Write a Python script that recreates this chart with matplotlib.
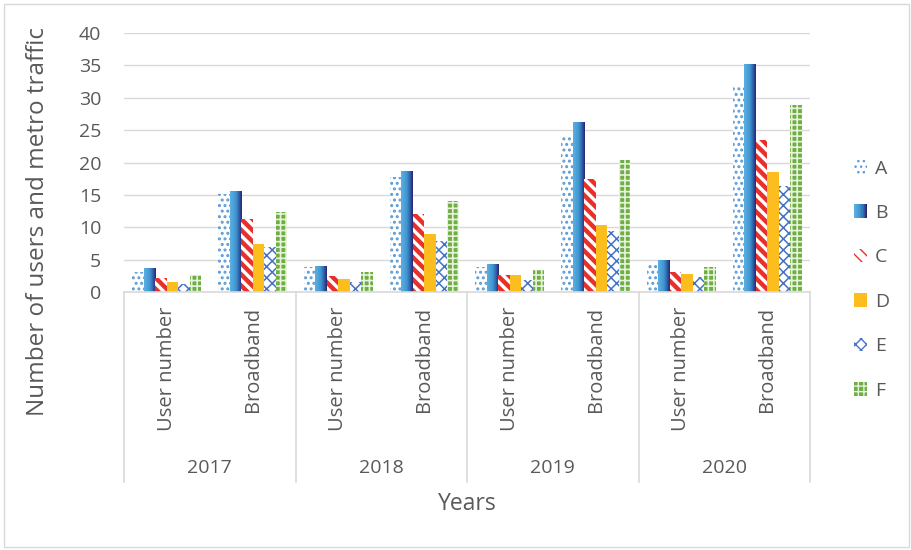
import numpy as np
import matplotlib
matplotlib.use("Agg")
import matplotlib.pyplot as plt
from matplotlib.patches import Rectangle, Patch
from matplotlib.colors import LinearSegmentedColormap
from matplotlib.legend_handler import HandlerBase
import matplotlib.transforms as mtransforms

plt.rcParams['font.family'] = ['Open Sans', 'DejaVu Sans']

years = ['2017', '2018', '2019', '2020']
subcats = ['User number', 'Broadband']
series_names = ['A', 'B', 'C', 'D', 'E', 'F']
A = [3.1, 15.2, 3.9, 17.8, 3.8, 24.2, 4.4, 31.7]
B = [3.6, 15.5, 4.0, 18.6, 4.3, 26.2, 4.8, 35.2]
C = [2.1, 11.3, 2.4, 12.0, 2.6, 17.4, 3.1, 23.5]
D = [1.6, 7.4, 2.0, 8.9, 2.6, 10.3, 2.8, 18.6]
E = [1.2, 7.0, 1.6, 7.8, 1.9, 9.4, 2.3, 16.3]
F = [2.6, 12.4, 3.1, 14.1, 3.4, 20.4, 3.8, 28.9]
yticks = [0, 5, 10, 15, 20, 25, 30, 35, 40]

TXT = '#595959'
GRID = '#D9D9D9'
FS = 14
blue_grad = LinearSegmentedColormap.from_list(
    'bgrad', [(0.0, '#5DB0E2'), (0.5, '#3F95CF'), (0.75, '#2F63AA'), (1.0, '#2B2270')])

fig = plt.figure(figsize=(9.11, 5.5), dpi=100)
ax = fig.add_axes([124 / 911, 1 - 292 / 550, 686 / 911, 259 / 550])

# chart border
fig.patches.append(Rectangle((4 / 911, 3 / 550), 905 / 911, 543 / 550, transform=fig.transFigure,
                             fill=False, edgecolor=GRID, lw=1))

n_cat = len(A)
x = np.arange(n_cat)
bw = 0.134
offs = (np.arange(6) - 2.5) * bw

styles = {
    'A': dict(facecolor='white', edgecolor='#5B9BD5', hatch='...', hlw=1.4),
    'C': dict(facecolor='white', edgecolor='#E8302A', hatch='\\\\\\', hlw=3.2),
    'D': dict(facecolor='#FBBE1E', edgecolor='#FBBE1E', hatch=None, hlw=1.0),
    'E': dict(facecolor='white', edgecolor='#4472C4', hatch='xxx', hlw=1.1),
    'F': dict(facecolor='#6FAE43', edgecolor='#E6F2DC', hatch='+++', hlw=1.2),
}

data = dict(zip(series_names, [A, B, C, D, E, F]))
for k, name in enumerate(series_names):
    vals = data[name]
    if name == 'B':
        for xi, v in zip(x, vals):
            x0 = xi + offs[k] - bw / 2
            ax.imshow(np.linspace(0, 1, 64).reshape(1, -1), cmap=blue_grad, aspect='auto',
                      extent=[x0, x0 + bw, 0, v], zorder=2, interpolation='bilinear')
        continue
    st = styles[name]
    with plt.rc_context({'hatch.linewidth': st['hlw']}):
        ax.bar(x + offs[k], vals, width=bw, facecolor=st['facecolor'], edgecolor=st['edgecolor'],
               hatch=st['hatch'], linewidth=0, zorder=2)

ax.set_xlim(-0.5, n_cat - 0.5)
ax.set_ylim(0, 40)
ax.set_yticks(yticks)
ax.yaxis.grid(True, color=GRID, lw=1)
ax.set_axisbelow(True)
for s in ['top', 'right', 'left']:
    ax.spines[s].set_visible(False)
ax.spines['bottom'].set_color(GRID)
ax.spines['bottom'].set_linewidth(1.2)
ax.tick_params(axis='y', length=0, pad=16.5, labelsize=FS, labelcolor=TXT)
ax.tick_params(axis='x', length=0)

ax.set_xticks(x)
ax.set_xticklabels([])
trans = mtransforms.blended_transform_factory(ax.transData, ax.transAxes)
for xi in x:
    ax.text(xi, -15 / 259, subcats[xi % 2], rotation=90, ha='center', va='top',
            transform=trans, fontsize=14.5, color=TXT)
for j, yr in enumerate(years):
    ax.text(2 * j + 0.5, -176 / 259, yr, ha='center', va='center', transform=trans,
            fontsize=FS, color=TXT)
for b in np.arange(-0.5, n_cat, 2):
    ax.plot([b, b], [0, -190 / 259], transform=trans, color=GRID, lw=1.2, clip_on=False)

fig.text(38 / 911, 1 - 222 / 550, 'Number of users and metro traffic', rotation=90,
         ha='center', va='center', fontsize=17.5, color=TXT)
fig.text(467 / 911, 1 - 504 / 550, 'Years', ha='center', va='center', fontsize=16.5, color=TXT)


class GradientHandler(HandlerBase):
    def create_artists(self, legend, orig_handle, xdescent, ydescent, width, height, fontsize, trans):
        n = 12
        arts = []
        for i in range(n):
            r = Rectangle((-xdescent + width * i / n, -ydescent), width / n + 0.01, height,
                          facecolor=blue_grad(i / (n - 1)), edgecolor='none', transform=trans)
            arts.append(r)
        return arts


handles = []
for name in series_names:
    if name == 'B':
        handles.append(Patch(label='B'))
    else:
        st = styles[name]
        with plt.rc_context({'hatch.linewidth': st['hlw']}):
            handles.append(Patch(facecolor=st['facecolor'], edgecolor=st['edgecolor'],
                                 hatch=st['hatch'], linewidth=0, label=name))

leg = fig.legend(handles=handles, loc='upper left', bbox_to_anchor=(836 / 911, 1 - 142 / 550),
                 frameon=False, fontsize=FS, handlelength=0.7, handleheight=0.7,
                 labelspacing=1.36, handletextpad=0.4,
                 handler_map={handles[1]: GradientHandler()})
for t in leg.get_texts():
    t.set_color(TXT)

fig.savefig('out.png', dpi=100)
